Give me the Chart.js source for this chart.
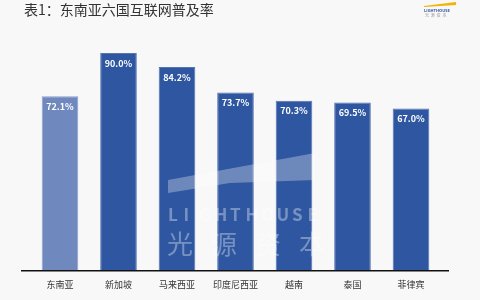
<!DOCTYPE html>
<html><head><meta charset="utf-8">
<script src="https://cdn.jsdelivr.net/npm/chart.js@4.4.1/dist/chart.umd.min.js"></script>
<style>html,body{margin:0;padding:0;background:#f8f8f8;}canvas{display:block;}</style>
</head><body>
<canvas id="c" width="480" height="300"></canvas>
<script>
const titleText = "表1：东南亚六国互联网普及率";
const categories = ["东南亚","新加坡","马来西亚","印度尼西亚","越南","泰国","菲律宾"];
const penetration = [72.1, 90.0, 84.2, 73.7, 70.3, 69.5, 67.0];
const barColors = ["#6f89bf","#2f56a0","#2f56a0","#2f56a0","#2f56a0","#2f56a0","#2f56a0"];

const FONT = "'Noto Sans CJK SC','Noto Sans',sans-serif";

const decor = {
  id: 'decor',
  beforeDraw(chart) {
    const ctx = chart.ctx;
    ctx.save();
    ctx.fillStyle = '#f8f8f8';
    ctx.fillRect(0, 0, chart.width, chart.height);
    ctx.fillStyle = '#333';
    ctx.font = '14px ' + FONT;
    ctx.textBaseline = 'middle';
    ctx.fillText(titleText, 24, 10);
    // small logo top-right
    ctx.fillStyle = '#f2b400';
    ctx.beginPath();
    ctx.moveTo(424, 6); ctx.lineTo(456, 2); ctx.lineTo(456, 5); ctx.lineTo(424, 7); ctx.closePath(); ctx.fill();
    ctx.fillStyle = '#2f56a0';
    ctx.font = 'bold 4px ' + FONT;
    ctx.textAlign = 'left';
    ctx.fillText('LIGHTHOUSE', 424, 10);
    ctx.fillStyle = '#999';
    ctx.font = '4px ' + FONT;
    ctx.fillText('光  源  资  本', 425, 15);
    ctx.restore();
  },
  afterDatasetsDraw(chart) {
    const ctx = chart.ctx;
    const meta = chart.getDatasetMeta(0);
    ctx.save();
    // axis line
    const y0 = chart.scales.y.getPixelForValue(0);
    ctx.strokeStyle = '#111';
    ctx.lineWidth = 1.5;
    ctx.beginPath(); ctx.moveTo(21, y0 + 0.5); ctx.lineTo(449, y0 + 0.5); ctx.stroke();
    // value labels
    ctx.fillStyle = '#ffffff';
    ctx.font = 'bold 9px ' + FONT;
    ctx.textAlign = 'center';
    ctx.textBaseline = 'middle';
    meta.data.forEach((bar, i) => {
      ctx.fillText(penetration[i].toFixed(1) + '%', bar.x, bar.y + 10);
    });
    // watermark
    ctx.fillStyle = 'rgba(255,255,255,0.3)';
    ctx.beginPath();
    ctx.moveTo(168, 180); ctx.lineTo(315, 153); ctx.lineTo(315, 180); ctx.lineTo(230, 183); ctx.lineTo(168, 193); ctx.closePath(); ctx.fill();
    ctx.fillStyle = 'rgba(255,255,255,0.35)';
    ctx.font = 'bold 17px ' + FONT;
    ctx.textAlign = 'left';
    const letters = 'LIGHTHOUSE';
    for (let i = 0; i < letters.length; i++) ctx.fillText(letters[i], 168 + i * 15.5, 215);
    ctx.font = '26px ' + FONT;
    const cn = ['光','源','资','本'];
    for (let i = 0; i < cn.length; i++) ctx.fillText(cn[i], 167 + i * 44, 244);
    ctx.restore();
  }
};

new Chart(document.getElementById('c'), {
  type: 'bar',
  data: {
    labels: categories,
    datasets: [{
      data: penetration,
      backgroundColor: barColors,
      borderColor: barColors.map(c => c === '#6f89bf' ? '#8aa0cc' : '#5574b4'),
      borderWidth: 1,
      barPercentage: 0.626,
      categoryPercentage: 1.0
    }]
  },
  options: {
    responsive: false,
    animation: false,
    layout: { padding: { left: 30.75, right: 39.75, top: 29, bottom: 9 } },
    plugins: { legend: { display: false }, tooltip: { enabled: false } },
    scales: {
      x: {
        grid: { display: false },
        border: { display: false },
        ticks: { color: '#333', font: { size: 9, family: FONT }, padding: 1, maxRotation: 0 }
      },
      y: { display: false, min: 0, max: 100 }
    }
  },
  plugins: [decor]
});
</script>
</body></html>
